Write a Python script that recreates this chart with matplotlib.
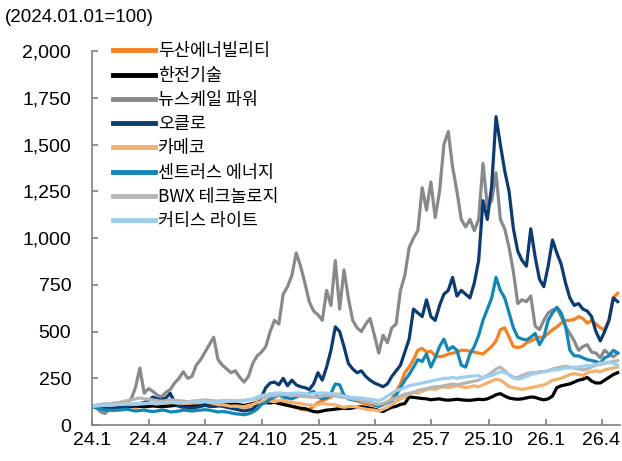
import numpy as np
import pandas as pd
import matplotlib
matplotlib.use("Agg")
import matplotlib.pyplot as plt
import matplotlib.ticker as mticker

plt.rcParams['font.family'] = ['Liberation Sans', 'Noto Sans CJK KR', 'DejaVu Sans']

# weekly observations, 2024-01-01 .. 2026-04-27
dates = pd.date_range('2024-01-01', periods=122, freq='7D')

doosan = [100, 105, 110, 100, 105, 100, 95, 100, 105, 100, 95, 100, 105, 110, 108, 105, 110, 105, 110, 115,
          112, 110, 108, 115, 120, 125, 130, 125, 120, 115, 110, 115, 110, 105, 100, 95, 100, 105, 110, 120,
          130, 135, 130, 125, 115, 110, 100, 95, 85, 80, 85, 100, 120, 130, 140, 150, 165, 165, 155, 150,
          140, 130, 120, 115, 110, 105, 100, 110, 120, 140, 180, 220, 280, 310, 350, 400, 410, 390, 395, 370,
          365, 370, 380, 385, 390, 400, 400, 395, 390, 385, 380, 400, 420, 450, 510, 520, 470, 420, 415, 420,
          440, 450, 460, 470, 470, 490, 510, 525, 545, 560, 560, 565, 580, 570, 545, 560, 540, 520, 510, 560,
          680, 705]

kepco_enc = [100, 98, 95, 100, 98, 95, 97, 100, 98, 100, 102, 100, 98, 100, 102, 100, 98, 100, 102, 105,
             103, 100, 98, 100, 105, 108, 110, 105, 100, 103, 105, 108, 110, 112, 108, 105, 110, 115, 120, 125,
             120, 118, 122, 115, 110, 105, 100, 95, 90, 88, 80, 72, 70, 75, 80, 82, 85, 88, 90, 88,
             92, 95, 98, 95, 90, 85, 78, 72, 85, 95, 100, 110, 115, 150, 148, 145, 142, 140, 135, 138,
             140, 135, 133, 135, 138, 135, 133, 132, 135, 138, 136, 140, 150, 162, 168, 155, 145, 140, 138, 140,
             145, 150, 148, 140, 135, 140, 155, 200, 210, 215, 220, 230, 240, 245, 255, 235, 225, 225, 240, 255,
             270, 280]

nuscale = [100, 95, 70, 62, 85, 100, 105, 110, 120, 140, 200, 305, 170, 195, 180, 160, 150, 175, 190, 225,
           250, 285, 250, 260, 320, 350, 390, 430, 470, 350, 320, 300, 280, 290, 255, 230, 260, 330, 370, 390,
           420, 500, 560, 540, 700, 740, 800, 920, 850, 760, 660, 610, 590, 560, 720, 640, 880, 620, 830, 680,
           560, 520, 500, 540, 570, 480, 385, 480, 440, 520, 540, 720, 800, 950, 1000, 1040, 1270, 1150, 1300, 1110,
           1250, 1500, 1570, 1380, 1250, 1100, 1060, 1100, 1040, 1100, 1400, 1170, 1200, 1350, 1100, 1050, 950, 820, 650, 670,
           660, 690, 530, 510, 560, 600, 615, 625, 580, 525, 490, 450, 400, 420, 430, 390, 385, 360, 400, 380,
           365, 385]

oklo = [100, 95, 90, 88, 90, 92, 95, 95, 100, 105, 110, 115, 120, 130, 150, 140, 135, 145, 170, 120,
        100, 95, 95, 90, 95, 100, 105, 100, 100, 105, 100, 95, 90, 85, 80, 75, 80, 85, 110, 150,
        200, 225, 230, 215, 250, 210, 240, 215, 205, 200, 190, 220, 280, 240, 310, 400, 525, 500, 420, 330,
        300, 280, 290, 260, 240, 225, 215, 205, 220, 260, 290, 320, 390, 460, 620, 600, 580, 670, 580, 560,
        640, 700, 720, 790, 690, 720, 700, 680, 760, 880, 1200, 1100, 1280, 1650, 1500, 1360, 1250, 1050, 930, 880,
        850, 1050, 900, 780, 740, 850, 990, 920, 860, 760, 680, 640, 650, 620, 610, 580, 500, 450, 500, 560,
        680, 660]

cameco = [100, 105, 108, 110, 105, 108, 110, 112, 115, 112, 110, 112, 115, 118, 115, 112, 118, 120, 122, 120,
          118, 115, 118, 120, 118, 120, 125, 120, 115, 110, 108, 105, 100, 102, 100, 98, 105, 110, 120, 125,
          130, 128, 125, 130, 135, 125, 120, 118, 115, 110, 108, 105, 110, 115, 112, 110, 108, 100, 95, 98,
          100, 95, 90, 85, 82, 80, 75, 85, 95, 110, 125, 140, 150, 165, 175, 170, 180, 190, 195, 190,
          200, 205, 200, 205, 210, 205, 200, 205, 210, 205, 215, 225, 235, 245, 240, 225, 205, 200, 195, 190,
          195, 200, 205, 210, 215, 225, 240, 245, 250, 260, 270, 275, 270, 265, 280, 285, 290, 285, 295, 300,
          305, 310]

centrus = [100, 90, 85, 80, 80, 78, 80, 82, 85, 80, 75, 78, 80, 75, 72, 75, 80, 78, 70, 72,
           75, 80, 78, 75, 78, 80, 82, 80, 75, 70, 72, 70, 65, 60, 58, 55, 60, 70, 85, 110,
           120, 140, 150, 160, 150, 145, 140, 150, 160, 155, 170, 180, 150, 140, 145, 170, 220, 215, 160, 140,
           135, 130, 130, 125, 120, 110, 100, 110, 120, 130, 160, 200, 240, 270, 310, 350, 340, 380, 310, 360,
           420, 460, 400, 420, 400, 320, 310, 380, 420, 480, 560, 620, 680, 790, 720, 680, 600, 520, 470, 460,
           455, 470, 490, 430, 470, 560, 600, 630, 600, 530, 400, 370, 370, 360, 350, 345, 340, 330, 360, 370,
           400, 385]

bwx = [100, 105, 110, 115, 112, 118, 120, 125, 130, 135, 140, 145, 140, 138, 135, 130, 128, 130, 135, 132,
       130, 128, 125, 128, 130, 132, 135, 132, 130, 128, 130, 132, 130, 128, 130, 132, 135, 138, 140, 145,
       150, 155, 158, 160, 162, 165, 160, 158, 155, 152, 150, 148, 150, 155, 158, 160, 155, 150, 148, 145,
       140, 135, 130, 125, 120, 115, 110, 115, 125, 135, 145, 155, 165, 170, 175, 185, 190, 195, 200, 205,
       205, 210, 215, 220, 215, 220, 225, 230, 235, 240, 255, 265, 280, 300, 310, 290, 270, 255, 255, 265,
       275, 280, 280, 285, 285, 290, 300, 305, 310, 315, 310, 305, 300, 295, 300, 310, 320, 325, 330, 335,
       340, 345]

curtiss = [100, 102, 104, 105, 106, 108, 110, 110, 112, 112, 115, 115, 114, 116, 118, 118, 117, 119, 120, 120,
           118, 120, 122, 122, 124, 125, 126, 124, 122, 125, 127, 128, 130, 130, 128, 130, 135, 140, 150, 158,
           162, 168, 170, 172, 170, 168, 170, 172, 170, 168, 165, 168, 170, 172, 170, 168, 165, 160, 155, 150,
           148, 145, 145, 140, 138, 135, 130, 140, 155, 170, 185, 190, 200, 210, 215, 220, 225, 230, 235, 240,
           245, 250, 250, 255, 250, 255, 258, 260, 262, 265, 250, 260, 265, 275, 285, 280, 270, 250, 245, 250,
           260, 270, 275, 280, 285, 290, 295, 295, 300, 305, 305, 310, 310, 315, 318, 320, 325, 330, 335, 335,
           330, 320]

labels = ['두산에너빌리티', '한전기술', '뉴스케일 파워', '오클로', '카메코', '센트러스 에너지', 'BWX 테크놀로지', '커티스 라이트']
colors = ['#f58220', '#000000', '#868a8d', '#0b3b70', '#f2b16e', '#1187b8', '#b5b5b5', '#9ecfee']
series = [doosan, kepco_enc, nuscale, oklo, cameco, centrus, bwx, curtiss]

tick_dates = pd.to_datetime(['2024-01-01', '2024-04-01', '2024-07-01', '2024-10-01', '2025-01-01',
                             '2025-04-01', '2025-07-01', '2025-10-01', '2026-01-01', '2026-04-01'])
tick_labels = ['24.1', '24.4', '24.7', '24.10', '25.1', '25.4', '25.7', '25.10', '26.1', '26.4']

fig = plt.figure(figsize=(6.22, 4.61), dpi=100)
ax = fig.add_axes([0.148, 0.078, 0.849, 0.811])

for vals, lab, col in zip(series, labels, colors):
    ax.plot(dates, vals, color=col, lw=2.3, label=lab, solid_joinstyle='round')

ax.set_ylim(0, 2000)
ax.set_yticks(np.arange(0, 2001, 250))
ax.yaxis.set_major_formatter(mticker.FuncFormatter(lambda v, p: f'{int(v):,}'))
ax.set_xlim(pd.Timestamp('2024-01-01'), pd.Timestamp('2026-05-01'))
ax.set_xticks(tick_dates)
ax.set_xticklabels(tick_labels)

for s in ['top', 'right']:
    ax.spines[s].set_visible(False)
for s in ['left', 'bottom']:
    ax.spines[s].set_color('#808080')
    ax.spines[s].set_linewidth(1.2)
ax.tick_params(direction='in', length=4, width=1.2, color='#808080', labelsize=14)
ax.tick_params(axis='y', pad=15)
ax.tick_params(axis='x', pad=5)

leg = ax.legend(loc='upper left', bbox_to_anchor=(0.027, 1.042), frameon=False,
                prop={'family': ['Noto Sans CJK KR', 'DejaVu Sans'], 'size': 12.5},
                handlelength=2.4, handletextpad=0.2, labelspacing=0.36, borderaxespad=0)
for h in leg.get_lines():
    h.set_linewidth(3.5)

fig.text(0.008, 0.962, '(2024.01.01=100)', fontsize=13.5, ha='left', va='center')

fig.savefig('out.png', dpi=100)
